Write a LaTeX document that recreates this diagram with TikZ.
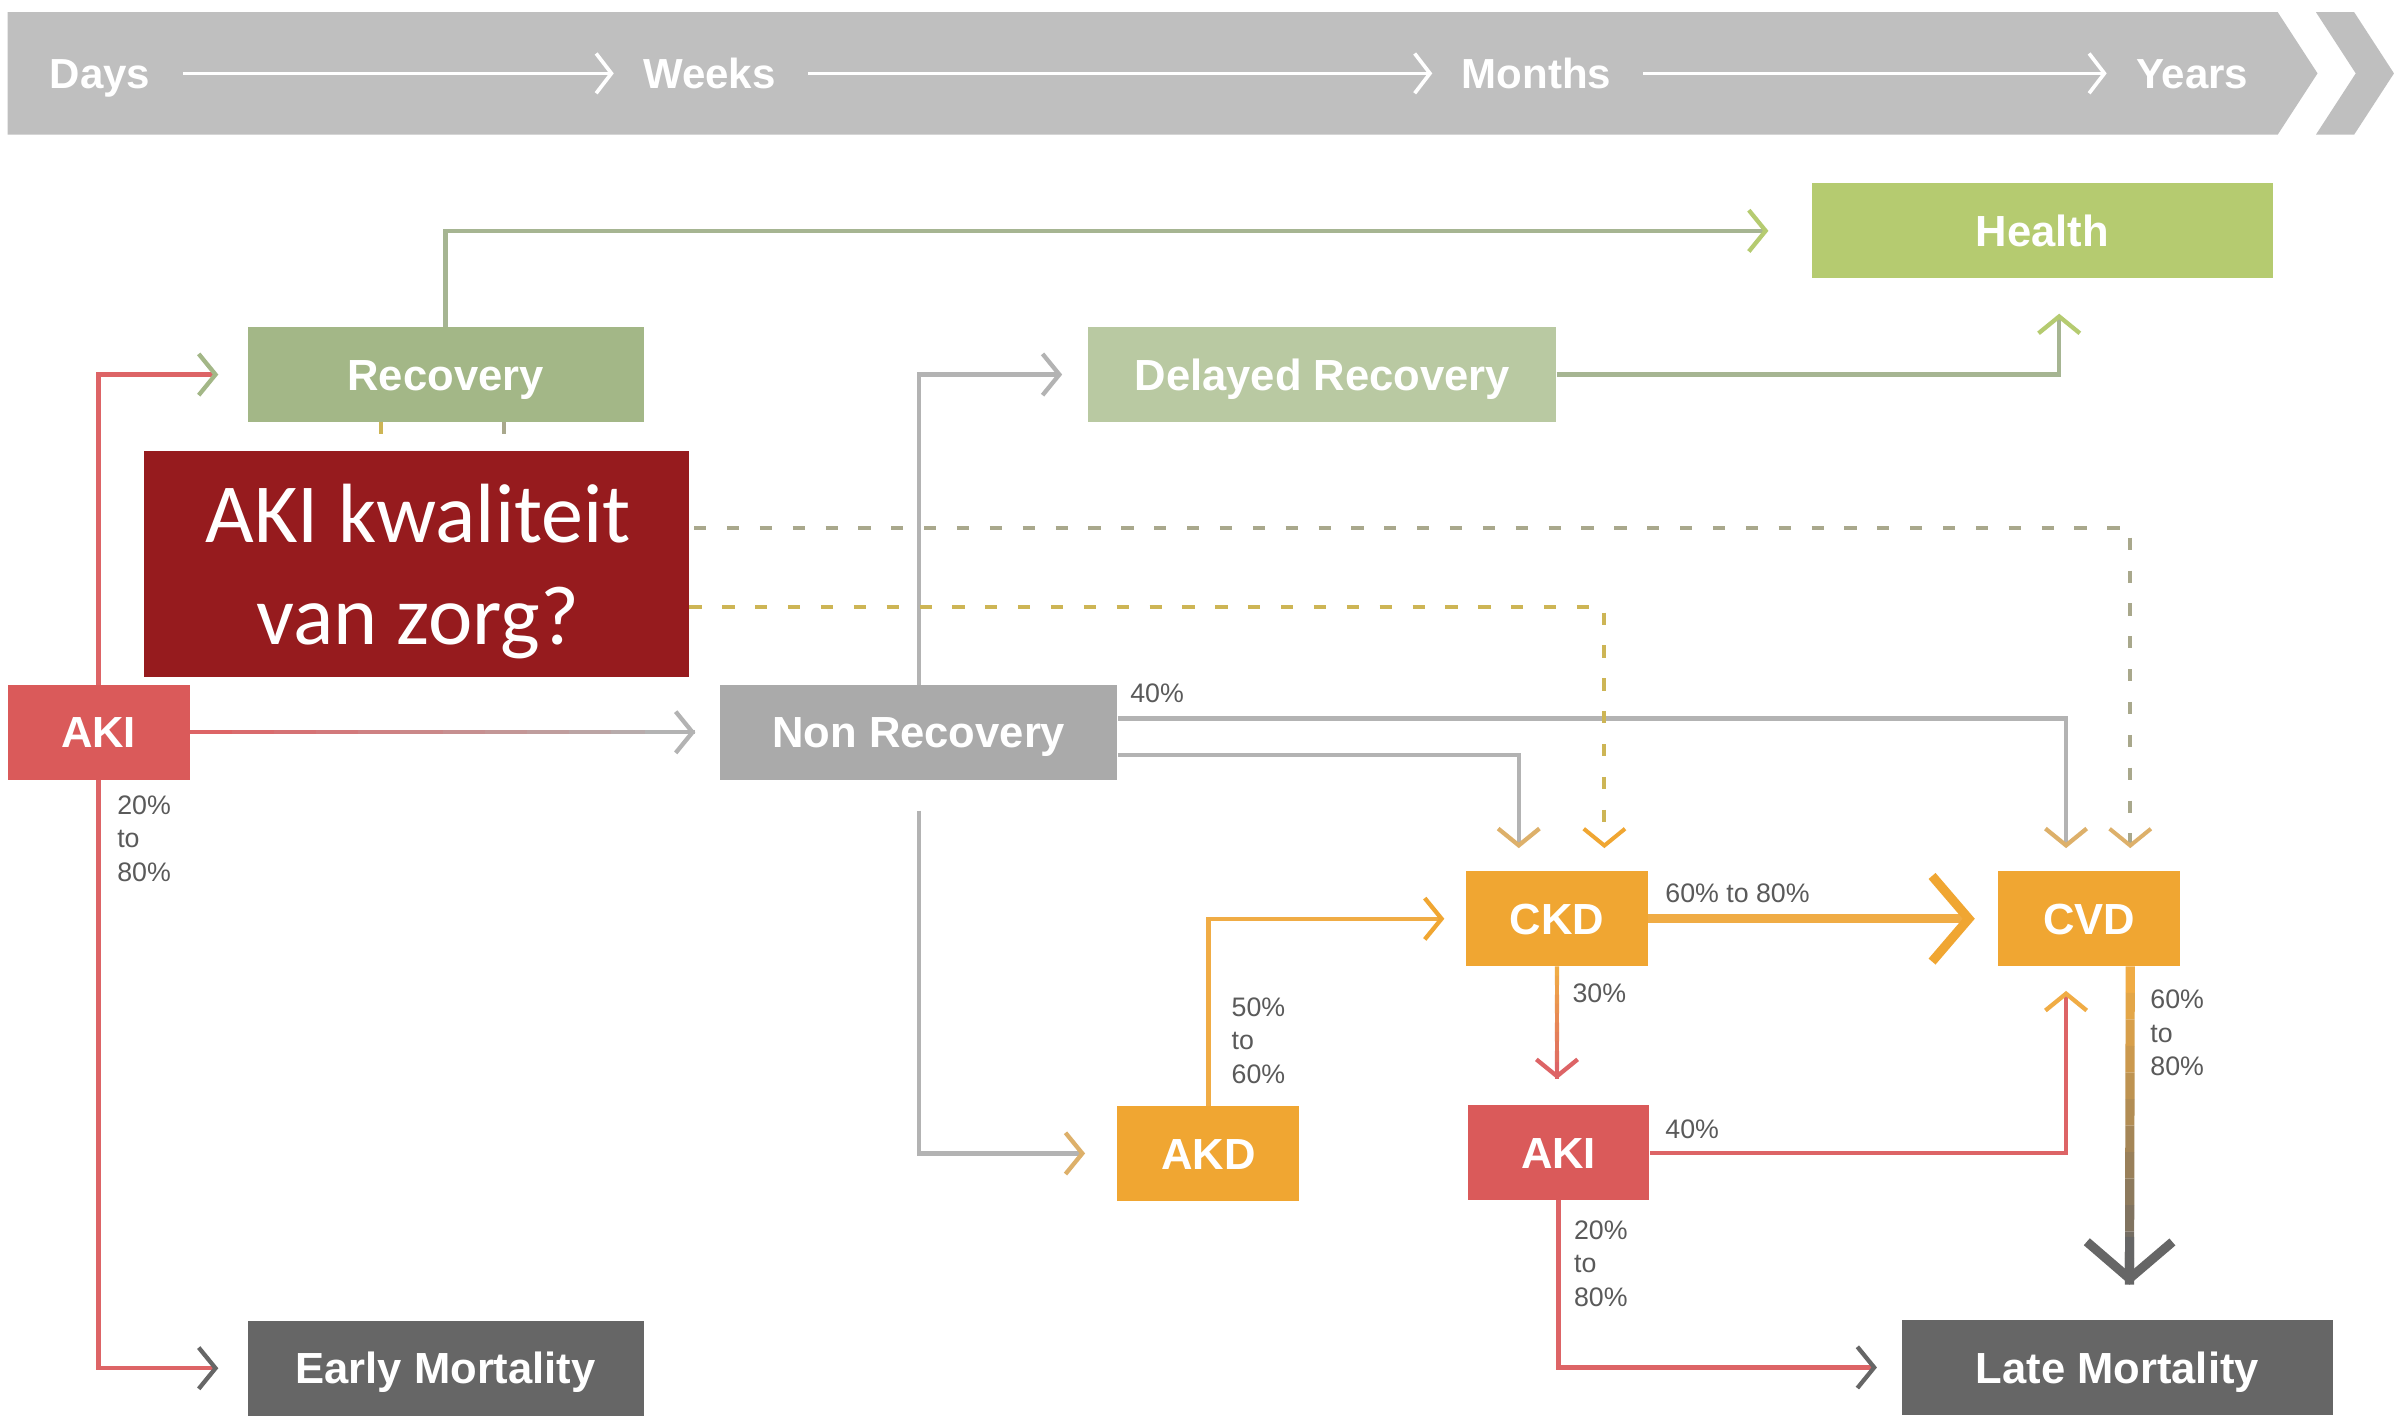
\documentclass[tikz,border=0pt]{standalone}
\usepackage{fontspec}
\setmainfont{Liberation Sans}
\newfontfamily\notefont{Carlito}
\usetikzlibrary{arrows.meta,calc}

\definecolor{bannergray}{HTML}{BFBFBF}
\definecolor{healthgreen}{HTML}{B5CB70}
\definecolor{recovgreen}{HTML}{A3B787}
\definecolor{delaygreen}{HTML}{B9C9A2}
\definecolor{akired}{HTML}{DA5A5A}
\definecolor{nrgray}{HTML}{AAAAAA}
\definecolor{ckdorange}{HTML}{F0A632}
\definecolor{mortalgray}{HTML}{666666}
\definecolor{notered}{HTML}{961B1E}
\definecolor{pctgray}{HTML}{5A5A5A}
\definecolor{sageline}{HTML}{A6B592}
\definecolor{lineorange}{HTML}{F0AC45}
\definecolor{linered}{HTML}{DD6466}
\definecolor{linegray}{HTML}{B3B3B3}
\definecolor{tiptan}{HTML}{DDB06A}
\definecolor{dasholive}{HTML}{A9A88C}
\definecolor{dashgold}{HTML}{CDB555}

\tikzset{
  stage/.style={minimum height=62pt, inner sep=0pt, text=white,
    font=\bfseries\fontsize{28.5}{30}\selectfont, text height=20.5pt, text depth=0pt},
  period/.style={inner sep=0pt, text=white,
    font=\bfseries\fontsize{27.5}{30}\selectfont, text height=20pt, text depth=0pt},
  pct/.style={inner sep=0pt, anchor=north west, align=left, text=pctgray,
    font=\fontsize{17.5}{22}\selectfont},
  timeline/.style={white, line width=2.4pt, shorten <=21pt, shorten >=19pt,
    -{Straight Barb[length=10pt,width=26pt]}},
  flow/.style={line width=2.8pt, -{Straight Barb[length=11pt,width=27pt,#1]}},
  flow/.default={},
  bigflow/.style={line width=6pt, -{Straight Barb[length=24pt,width=56pt,#1]}},
  bigflow/.default={},
  careflow/.style={line width=2.6pt, dash pattern=on 8pt off 13.5pt,
    -{Straight Barb[length=11pt,width=27pt,#1]}},
}

% colour run along a straight connector: from, to, start colour, end colour, width
\newcommand\fadeline[5]{%
  \foreach \k in {0,...,11}{
    \pgfmathtruncatemacro\mix{\k*100/11}
    \draw[line width=#5, #4!\mix!#3] ($(#1)!\k/12!(#2)$) -- ($(#1)!{(\k+1)/12}!(#2)$);
  }}

\begin{document}
\begin{tikzpicture}[x=1pt, y=-1pt]
  \fill[white] (0,0) rectangle (1568,930);
  \useasboundingbox (0,0) rectangle (1568,930);

  % time banner
  \fill[bannergray] (5,8) -- (1490,8) -- (1516,48) -- (1490,88) -- (5,88) -- cycle;
  \fill[bannergray] (1515,8) -- (1540,8) -- (1566,48) -- (1540,88) -- (1515,88) -- (1541,48) -- cycle;
  \node[period] (days) at (65.5,48) {Days};
  \node[period] (weeks) at (464,48) {Weeks};
  \node[period] (months) at (1005,48) {Months};
  \node[period] (years) at (1434,48) {Years};
  \draw[timeline] (days) -- (weeks);
  \draw[timeline] (weeks) -- (months);
  \draw[timeline] (months) -- (years);

  % stages
  \node[stage, fill=healthgreen, minimum width=302pt] (health) at (1336,151) {Health};
  \node[stage, fill=recovgreen, minimum width=259pt] (recov) at (291.5,245) {Recovery};
  \node[stage, fill=delaygreen, minimum width=306pt] (delay) at (865,245) {Delayed Recovery};
  \node[stage, fill=akired, minimum width=119pt] (aki1) at (64.5,479) {AKI};
  \node[stage, fill=nrgray, minimum width=260pt] (nonrec) at (601,479) {Non Recovery};
  \node[stage, fill=ckdorange, minimum width=119pt] (ckd) at (1018.5,601) {CKD};
  \node[stage, fill=ckdorange, minimum width=119pt] (cvd) at (1366.5,601) {CVD};
  \node[stage, fill=ckdorange, minimum width=119pt] (akd) at (790.5,754.5) {AKD};
  \node[stage, fill=akired, minimum width=119pt] (aki2) at (1019.5,754) {AKI};
  \node[stage, fill=mortalgray, minimum width=259pt] (early) at (291.5,895) {Early Mortality};
  \node[stage, fill=mortalgray, minimum width=282pt] (late) at (1385,894.5) {Late Mortality};

  % connectors
  \draw[flow={color=healthgreen}, sageline] (recov.north) |- ($(health.west)+(-28,0)$);
  \draw[flow={color=recovgreen}, linered] (aki1.north) |- ($(recov.west)+(-19,0)$);
  \draw[flow={color=mortalgray}, linered] (aki1.south) |- ($(early.west)+(-19,0)$);
  \coordinate (nrin) at ($(nonrec.west)+(-16,0)$);
  \fadeline{aki1.east}{nrin}{linered}{linegray}{2.8pt}
  \draw[flow={color=linegray}, linegray] ($(aki1.east)!0.9!(nrin)$) -- (nrin);
  \draw[flow, linegray] (nonrec.north) |- ($(delay.west)+(-17,0)$);
  \draw[flow={color=tiptan}, linegray] ($(nonrec.south)+(0,20)$) |- ($(akd.west)+(-21,0)$);
  \draw[flow={color=healthgreen}, sageline] (delay.east) -| ($(health.south)+(11,23)$);
  \draw[flow={color=tiptan}, linegray] ($(nonrec.east)+(0,-9)$) -| ($(cvd.north)+(-15,-15)$);
  \draw[flow={color=tiptan}, linegray] ($(nonrec.east)+(0,15)$) -| ($(ckd.north)+(-25,-15)$);
  \draw[careflow={color=tiptan}, dasholive] ($(recov.south)+(38,0)$) -- ++(0,69) -| ($(cvd.north)+(27,-15)$);
  \draw[careflow={color=ckdorange}, dashgold] ($(recov.south)+(-42,0)$) -- ++(0,121) -| ($(ckd.north)+(31,-15)$);
  \draw[flow={color=ckdorange}, lineorange] (akd.north) |- ($(ckd.west)+(-14,0)$);
  \draw[bigflow={color=ckdorange}, lineorange] (ckd.east) -- ($(cvd.west)+(-15,0)$);
  \coordinate (akiin) at ($(aki2.north)+(-1,-17)$);
  \fadeline{ckd.south}{akiin}{lineorange}{linered}{2.8pt}
  \draw[flow={color=linered}, linered] ($(ckd.south)!0.85!(akiin)$) -- (akiin);
  \draw[flow={color=lineorange}, linered] (aki2.east) -| ($(cvd.south)+(-15,16)$);
  \draw[flow={color=mortalgray}, linered] (aki2.south) |- ($(late.west)+(-16,0)$);
  \coordinate (cvdout) at ($(cvd.south)+(27,0)$);
  \coordinate (latein) at ($(late.north)+(8,-23)$);
  \fadeline{cvdout}{latein}{lineorange}{mortalgray}{6pt}
  \draw[bigflow={color=mortalgray}, mortalgray] ($(cvdout)!0.85!(latein)$) -- (latein);

  % percentages
  \node[pct] (p-early) at ($(aki1.south)+(12,10)$) {20\%\\to\\80\%};
  \node[pct] (p-nonrec) at ($(nonrec.east)+(8,-32)$) {40\%};
  \node[pct] (p-ckdcvd) at ($(ckd.east)+(11,-23)$) {60\% to 80\%};
  \node[pct] (p-ckdaki) at ($(ckd.south)+(10,11)$) {30\%};
  \node[pct] (p-akd) at ($(akd.north)+(15,-71)$) {50\%\\to\\60\%};
  \node[pct] (p-akicvd) at ($(aki2.east)+(10,-22)$) {40\%};
  \node[pct] (p-late) at ($(aki2.south)+(10,13)$) {20\%\\to\\80\%};
  \node[pct] (p-cvd) at ($(cvd.south)+(40,15)$) {60\%\\to\\80\%};

  % quality of care box
  \node[fill=notered, minimum width=357pt, minimum height=148pt, inner sep=0pt]
    (care) at (272.5,369) {};
  \node[inner sep=0pt, text=white, align=center, font=\notefont\fontsize{55}{67}\selectfont]
    (care-text) at ($(care.center)+(1,5)$) {AKI kwaliteit\\van zorg?};
\end{tikzpicture}
\end{document}
